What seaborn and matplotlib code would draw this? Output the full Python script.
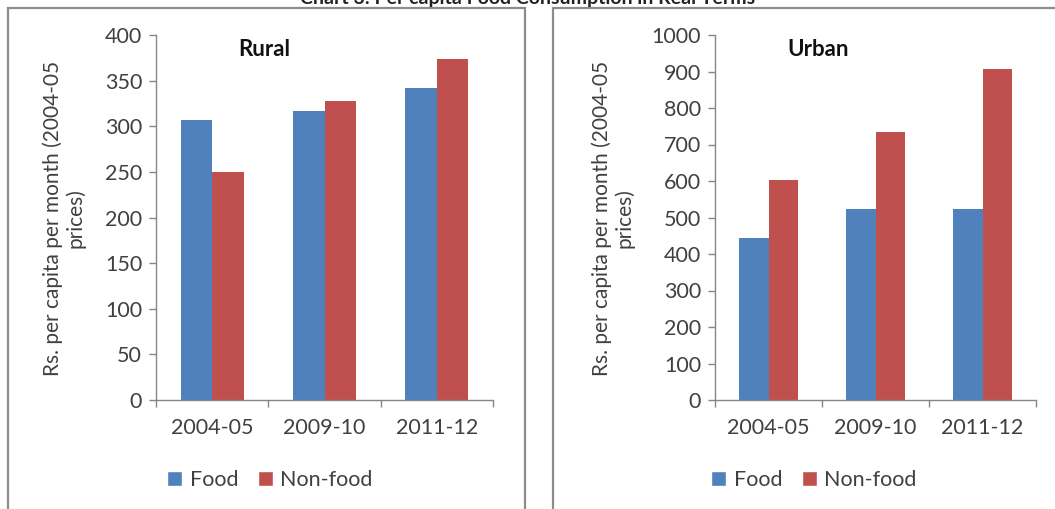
import matplotlib
matplotlib.use("Agg")
import matplotlib.pyplot as plt
from matplotlib.patches import Rectangle
from matplotlib.ticker import MultipleLocator, FixedLocator
import seaborn as sns
import pandas as pd

# Data: monthly per-capita consumption (Rs., 2004-05 prices)
periods = ["2004-05", "2009-10", "2011-12"]
rural_food = [307, 317, 342]
rural_nonfood = [250, 328, 374]
urban_food = [445, 523, 523]
urban_nonfood = [604, 733, 908]
series_names = ["Food", "Non-food"]

title_text = "Chart 3: Per capita Food Consumption in Real Terms"
ylabel_text = "Rs. per capita per month (2004-05\nprices)"

colors = {"Food": "#4F81BD", "Non-food": "#C0504D"}
axis_grey = "#868686"
text_grey = "#404040"

sns.set_theme(style="white")
plt.rcParams["font.family"] = ["Lato", "DejaVu Sans"]


def long_frame(food, nonfood):
    rows = []
    for p, f, n in zip(periods, food, nonfood):
        rows.append({"period": p, "type": series_names[0], "value": f})
        rows.append({"period": p, "type": series_names[1], "value": n})
    return pd.DataFrame(rows)


W, H = 1055, 509
fig = plt.figure(figsize=(W / 100, H / 100), dpi=100)


def fx(px):
    return px / W


def fy(py):
    return 1 - py / H


# panel frames
fig.patches.append(Rectangle((fx(8), fy(560)), fx(525 - 8), fy(8) - fy(560),
                             transform=fig.transFigure, fill=False,
                             edgecolor="#8c8c8c", linewidth=1.6, zorder=0))
fig.patches.append(Rectangle((fx(553), fy(560)), fx(1100 - 553), fy(8) - fy(560),
                             transform=fig.transFigure, fill=False,
                             edgecolor="#8c8c8c", linewidth=1.6, zorder=0))

fig.text(0.5, fy(4), title_text, ha="center", va="baseline",
         fontsize=14, fontweight="bold", color="#222222")

panels = [
    dict(food=rural_food, nonfood=rural_nonfood, name="Rural", ymax=400, step=50,
         x0=156, x1=493, label_x=64, legend_cx=270),
    dict(food=urban_food, nonfood=urban_nonfood, name="Urban", ymax=1000, step=100,
         x0=715, x1=1036, label_x=613, legend_cx=814),
]

for p in panels:
    ax = fig.add_axes([fx(p["x0"]), fy(400), fx(p["x1"] - p["x0"]), fy(35) - fy(400)])
    df = long_frame(p["food"], p["nonfood"])
    sns.barplot(data=df, x="period", y="value", hue="type", palette=colors,
                width=0.56, saturation=1, linewidth=0, ax=ax, legend=False)
    ax.set_xlim(-0.5, 2.5)
    ax.set_ylim(0, p["ymax"])
    ax.yaxis.set_major_locator(MultipleLocator(p["step"]))
    ax.xaxis.set_minor_locator(FixedLocator([-0.5, 0.5, 1.5, 2.5]))
    for s in ["top", "right"]:
        ax.spines[s].set_visible(False)
    for s in ["left", "bottom"]:
        ax.spines[s].set_color(axis_grey)
        ax.spines[s].set_linewidth(1.0)
    ax.tick_params(axis="y", which="major", length=5, width=1, color=axis_grey,
                   labelsize=15.5, labelcolor=text_grey, pad=5, left=True)
    ax.tick_params(axis="x", which="major", length=0, labelsize=15.5,
                   labelcolor=text_grey, pad=13)
    ax.tick_params(axis="x", which="minor", length=5, width=1, color=axis_grey,
                   bottom=True)
    ax.set_xlabel("")
    ax.set_ylabel("")
    ax.text(0.32, 0.99, p["name"], transform=ax.transAxes, ha="center", va="top",
            fontsize=16, fontweight="bold", color="#111111")
    fig.text(fx(p["label_x"]), fy(218), ylabel_text, rotation=90, ha="center",
             va="center", fontsize=15, color=text_grey, linespacing=1.15,
             multialignment="center")

    handles = [Rectangle((0, 0), 1, 1, facecolor=colors[n]) for n in series_names]
    fig.legend(handles, series_names, loc="center",
               bbox_to_anchor=(fx(p["legend_cx"]), fy(480)), ncol=2, frameon=False,
               fontsize=15.5, handlelength=0.7, handleheight=0.7,
               handletextpad=0.35, columnspacing=0.9, labelcolor=text_grey)

fig.savefig("out.png", dpi=100)
